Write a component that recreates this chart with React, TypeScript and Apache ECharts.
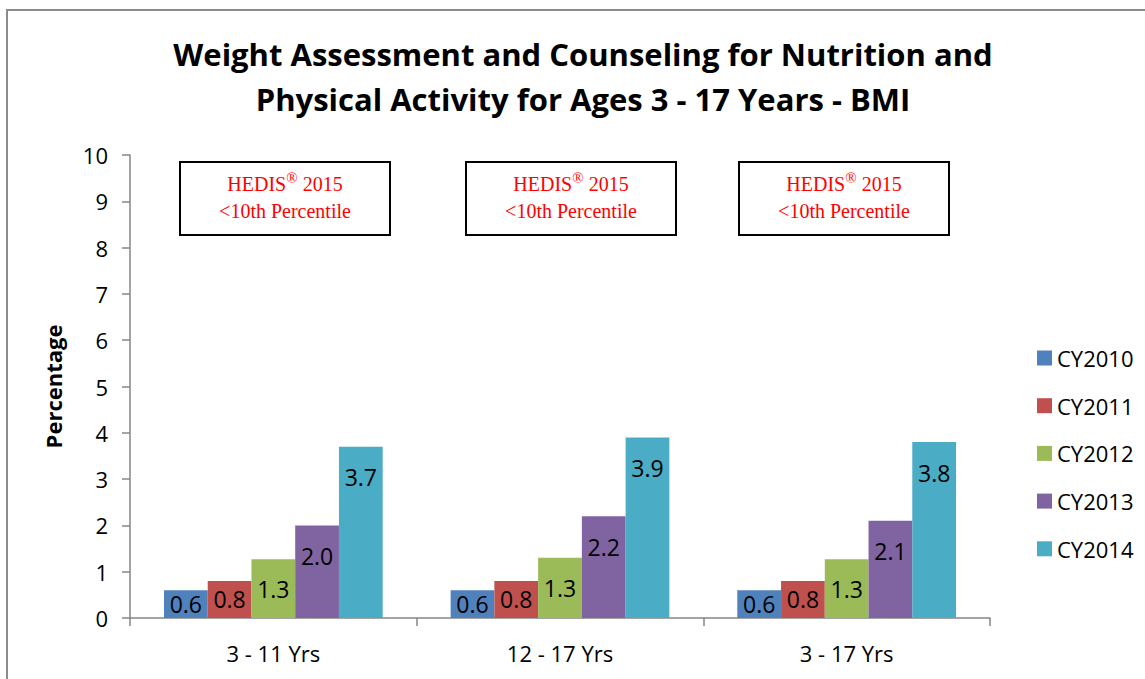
import React, { useEffect, useRef } from "react";
import * as echarts from "echarts";

const categories = ["3 - 11 Yrs", "12 - 17 Yrs", "3 - 17 Yrs"];
const seriesNames = ["CY2010", "CY2011", "CY2012", "CY2013", "CY2014"];
const cy2010 = [0.6, 0.6, 0.6];
const cy2011 = [0.8, 0.8, 0.8];
const cy2012 = [1.27, 1.3, 1.27];
const cy2013 = [2.0, 2.2, 2.1];
const cy2014 = [3.7, 3.9, 3.8];
const seriesValues = [cy2010, cy2011, cy2012, cy2013, cy2014];
const colors = ["#4F81BD", "#C0504D", "#9BBB59", "#8064A2", "#4BACC6"];
const yTicks = { min: 0, max: 10, interval: 1 };
const titleLines = [
  "Weight Assessment and Counseling for Nutrition and",
  "Physical Activity for Ages 3 - 17 Years - BMI",
];
const boxLine1 = ["HEDIS", "®", " 2015"];
const boxLine2 = "<10th Percentile";
const boxLefts = [180, 466, 739];

const FONT = "'Open Sans', sans-serif";

export default function App() {
  const ref = useRef<HTMLDivElement>(null);
  useEffect(() => {
    document.body.style.margin = "0";
    const chart = echarts.init(ref.current!, null, { renderer: "svg" });
    const boxes = boxLefts.map((x) => ({
      type: "group",
      x,
      y: 162,
      children: [
        {
          type: "rect",
          shape: { x: 0, y: 0, width: 210, height: 73 },
          style: { fill: "#fff", stroke: "#000", lineWidth: 2 },
        },
        {
          type: "text",
          x: 105,
          y: 8,
          style: {
            text: `{m|${boxLine1[0]}}{s|${boxLine1[1]}}{m|${boxLine1[2]}}\n{m|${boxLine2}}`,
            align: "center",
            verticalAlign: "top",
            rich: {
              m: {
                fontFamily: "'Liberation Serif', serif",
                fontSize: 20,
                lineHeight: 27,
                fill: "#FF0000",
              },
              s: {
                fontFamily: "'Liberation Serif', serif",
                fontSize: 15,
                lineHeight: 27,
                fill: "#FF0000",
                verticalAlign: "top",
                padding: [0, 0, 10, 0],
              },
            },
          },
        },
      ],
    }));
    chart.setOption({
      animation: false,
      backgroundColor: "#fff",
      color: colors,
      graphic: [
        {
          type: "rect",
          shape: { x: 7, y: 10, width: 1200, height: 700 },
          style: { fill: "none", stroke: "#8c8c8c", lineWidth: 2 },
          z: 100,
        },
        {
          type: "text",
          x: 583,
          y: 31,
          style: {
            text: titleLines.join("\n"),
            fontFamily: FONT,
            fontWeight: "bold",
            fontSize: 31,
            lineHeight: 45,
            align: "center",
            verticalAlign: "top",
            fill: "#000",
          },
        },
        ...boxes,
      ],
      grid: { left: 130, right: 155, top: 155, bottom: 61, containLabel: false },
      legend: {
        orient: "vertical",
        left: 1032,
        top: 342,
        icon: "rect",
        itemWidth: 15,
        itemHeight: 15,
        itemGap: 25.7,
        textStyle: { fontFamily: FONT, fontSize: 22, lineHeight: 22, color: "#000" },
        data: seriesNames,
      },
      xAxis: {
        type: "category",
        data: categories,
        axisLine: { lineStyle: { color: "#868686", width: 1.5 } },
        axisTick: { show: true, length: 8, interval: 0, lineStyle: { color: "#868686", width: 1.5 } },
        axisLabel: { fontFamily: FONT, fontSize: 22, color: "#000", margin: 24 },
      },
      yAxis: {
        type: "value",
        min: yTicks.min,
        max: yTicks.max,
        interval: yTicks.interval,
        name: "Percentage",
        nameLocation: "middle",
        nameRotate: 90,
        nameGap: 66,
        nameTextStyle: { fontFamily: FONT, fontSize: 22, fontWeight: "bold", color: "#000" },
        axisLine: { show: true, lineStyle: { color: "#868686", width: 1.5 } },
        axisTick: { show: true, length: 8, lineStyle: { color: "#868686", width: 1.5 } },
        splitLine: { show: false },
        axisLabel: { fontFamily: FONT, fontSize: 22, color: "#000", margin: 22 },
      },
      series: seriesNames.map((name, i) => ({
        name,
        type: "bar",
        barGap: "0%",
        barCategoryGap: "23.7%",
        data: seriesValues[i].map((v) => ({
          value: v,
          label: { position: v < 1.5 ? "inside" : "insideTop" },
        })),
        label: {
          show: true,
          distance: 19,
          fontFamily: FONT,
          fontSize: 23,
          color: "#000",
          formatter: (p: any) => Number(p.value).toFixed(1),
        },
      })),
    });
    return () => chart.dispose();
  }, []);
  return <div ref={ref} style={{ width: 1145, height: 679 }} />;
}
